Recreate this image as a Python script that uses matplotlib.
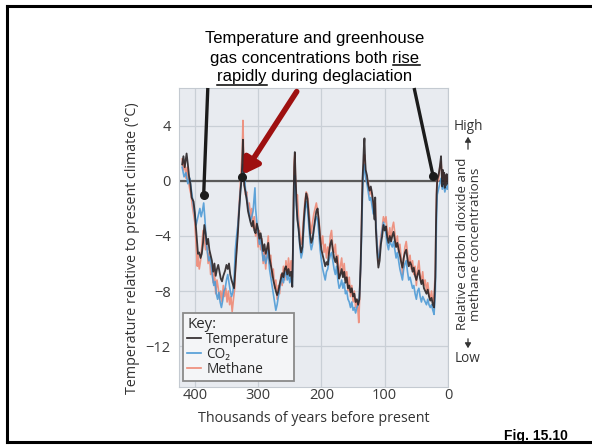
import matplotlib
matplotlib.use("Agg")
import matplotlib.pyplot as plt
from matplotlib.lines import Line2D

plt.rcParams['font.family'] = ['Open Sans', 'DejaVu Sans']

# ---------------- data (thousands of years before present) ----------------
temp_age = [420, 418, 416, 413, 411, 409, 407, 405, 402, 400, 398, 396, 395, 393, 391, 389, 387, 385, 383, 381,
            379, 377, 375, 373, 371, 369, 367, 365, 363, 361, 359, 357, 355, 352, 350, 348, 346, 344, 342, 340,
            338, 336, 334, 332, 330, 328, 326, 325, 324, 323, 322, 320, 318, 316, 314, 312, 310, 308, 306, 304,
            302, 300, 298, 296, 294, 292, 290, 288, 286, 284, 282, 280, 278, 276, 274, 272, 270, 268, 266, 264,
            262, 260, 258, 256, 254, 252, 250, 248, 246, 245, 244, 243, 242, 241, 240, 239, 238, 236, 234, 232,
            230, 228, 226, 224, 222, 220, 218, 216, 214, 212, 210, 208, 206, 204, 202, 200, 198, 196, 194, 192,
            190, 188, 186, 184, 182, 180, 178, 176, 174, 172, 170, 168, 166, 164, 162, 160, 158, 156, 154, 152,
            150, 148, 146, 144, 142, 140, 138, 137, 136, 135, 134, 133, 132, 131, 130, 128, 126, 124, 122, 120,
            118, 116, 115, 114, 112, 110, 108, 106, 104, 102, 100, 98, 96, 94, 92, 90, 88, 86, 84, 82,
            80, 78, 76, 74, 72, 70, 68, 66, 64, 62, 60, 58, 56, 54, 52, 50, 48, 46, 44, 42,
            40, 38, 36, 34, 32, 30, 28, 26, 24, 22, 20, 19, 18, 17, 15, 13, 11, 10, 9, 8,
            7, 6, 5, 4, 3, 2, 1, 0]
temperature = [1.2, 1.8, 1.0, 2.0, 1.2, 0.3, -0.2, -1.2, -1.5, -2.3, -3.5, -4.8, -5.3, -5.2, -5.6, -5.3, -4.5, -3.2, -3.8, -4.6,
               -4.2, -5.0, -5.4, -5.8, -6.6, -6.0, -6.9, -6.4, -6.1, -6.6, -7.1, -7.3, -6.9, -6.5, -6.1, -6.4, -6.0, -6.8, -7.2, -7.5,
               -7.8, -6.5, -5.3, -3.8, -2.2, -0.8, 0.3, 1.5, 3.0, 1.2, -0.3, -0.8, -1.4, -2.2, -2.6, -3.0, -3.3, -2.9, -3.6, -3.8,
               -3.1, -3.5, -4.2, -3.8, -4.4, -5.1, -4.6, -5.3, -4.9, -4.5, -5.6, -6.1, -6.6, -7.2, -7.6, -8.0, -8.3, -8.0, -7.5, -7.1,
               -6.7, -7.0, -6.4, -6.2, -6.8, -6.4, -6.9, -6.6, -7.7, -5.0, -1.5, 1.0, 2.1, 0.5, -0.8, -2.0, -2.8, -3.5, -4.6, -5.2,
               -4.8, -3.0, -1.8, -0.9, -1.3, -2.6, -3.8, -4.5, -4.2, -3.5, -2.8, -2.2, -2.0, -3.0, -4.2, -5.0, -5.4, -5.8, -6.2, -5.9,
               -6.1, -5.2, -4.6, -4.3, -5.0, -5.6, -5.9, -5.5, -6.3, -7.1, -6.8, -6.4, -7.0, -6.6, -7.4, -7.0, -7.8, -7.6, -8.1, -7.8,
               -8.4, -8.2, -8.8, -8.6, -9.0, -8.6, -6.0, -4.2, -2.0, 0.2, 1.2, 2.4, 3.1, 1.6, 0.8, 0.4, -0.3, -0.7, -0.4, -0.9,
               -1.6, -2.8, -1.2, -3.5, -5.2, -6.3, -5.8, -4.6, -4.0, -3.2, -3.6, -3.3, -4.1, -4.5, -4.0, -4.4, -4.0, -3.7, -4.3, -4.8,
               -4.5, -5.0, -5.4, -5.9, -6.3, -5.6, -5.2, -5.0, -5.7, -6.2, -5.9, -6.1, -6.6, -6.3, -6.9, -7.2, -6.8, -6.5, -7.1, -7.5,
               -7.2, -7.8, -8.0, -8.2, -7.9, -8.4, -8.7, -8.5, -9.0, -9.2, -7.0, -3.3, -1.0, 0.1, 0.4, 1.0, 1.8, 0.5, -0.4, 0.8,
               -0.2, 0.6, -0.5, 0.4, -0.3, 0.5, -0.2, 0.3]

co2_age = [420, 417, 414, 411, 408, 405, 402, 400, 398, 396, 394, 392, 390, 388, 386, 384, 382, 380, 378, 376,
           374, 372, 370, 368, 366, 364, 362, 360, 358, 356, 354, 352, 350, 348, 346, 344, 342, 340, 338, 336,
           334, 332, 330, 328, 326, 324, 322, 320, 318, 316, 314, 312, 310, 308, 306, 305, 304, 302, 300, 298,
           296, 294, 292, 290, 288, 286, 284, 282, 280, 278, 276, 274, 272, 270, 268, 266, 264, 262, 260, 258,
           256, 254, 252, 250, 248, 246, 245, 244, 243, 242, 241, 240, 238, 236, 234, 232, 230, 228, 226, 224,
           222, 220, 218, 216, 214, 212, 210, 208, 206, 204, 202, 200, 198, 196, 194, 192, 190, 188, 186, 184,
           182, 180, 178, 176, 174, 172, 170, 168, 166, 164, 162, 160, 158, 156, 154, 152, 150, 148, 146, 144,
           142, 140, 138, 137, 136, 135, 134, 133, 132, 131, 130, 128, 126, 124, 122, 120, 118, 116, 114, 112,
           110, 108, 106, 104, 102, 100, 98, 96, 94, 92, 90, 88, 86, 84, 82, 80, 78, 76, 74, 72,
           70, 68, 66, 64, 62, 60, 58, 56, 54, 52, 50, 48, 46, 44, 42, 40, 38, 36, 34, 32,
           30, 28, 26, 24, 22, 20, 19, 18, 17, 15, 13, 11, 9, 7, 5, 3, 1, 0]
co2 = [1.0, 0.3, 0.6, -0.2, 0.2, -0.8, -1.8, -2.5, -3.2, -2.8, -2.4, -2.0, -2.6, -2.2, -1.6, -2.8, -4.4, -5.2, -5.8, -5.5,
       -6.2, -7.0, -7.6, -7.3, -8.2, -8.6, -8.1, -8.8, -9.2, -8.7, -8.0, -7.8, -7.2, -6.8, -7.4, -8.0, -8.4, -8.1, -7.2, -5.0,
       -4.0, -3.2, -2.0, -0.8, 0.2, 1.2, 0.6, -0.6, -1.2, -1.8, -2.4, -2.9, -2.6, -2.2, -1.0, -0.5, -2.0, -3.0, -3.8, -4.6,
       -4.2, -5.0, -5.8, -5.4, -6.0, -5.6, -5.0, -6.4, -7.0, -7.6, -8.2, -8.8, -9.4, -9.0, -8.4, -7.8, -7.4, -7.0, -7.4, -6.8,
       -6.6, -7.2, -6.8, -7.4, -7.0, -7.6, -5.4, -2.6, -0.6, 0.4, -0.4, -1.4, -2.6, -3.6, -4.8, -5.6, -5.2, -3.6, -2.2, -1.5,
       -2.0, -3.2, -4.4, -5.0, -4.6, -3.6, -3.0, -2.6, -2.8, -3.8, -5.0, -5.8, -6.4, -6.8, -7.2, -6.6, -6.4, -5.8, -5.4, -5.2,
       -5.8, -6.4, -6.8, -6.2, -7.2, -7.8, -7.6, -7.2, -7.8, -7.4, -8.2, -8.0, -8.6, -8.8, -9.2, -8.8, -9.4, -9.2, -9.6, -9.2,
       -9.0, -8.4, -6.4, -4.8, -2.8, -1.0, 0.2, 0.8, 1.2, 0.8, 0.2, -0.2, -0.8, -1.4, -1.2, -1.8, -2.4, -2.0, -3.0, -4.6,
       -5.6, -5.4, -4.4, -3.6, -3.0, -3.4, -3.8, -4.6, -5.0, -4.4, -4.6, -4.8, -4.4, -5.0, -5.6, -5.2, -5.8, -6.4, -6.8, -7.2,
       -6.4, -6.0, -5.8, -6.6, -7.2, -7.0, -7.4, -7.8, -7.6, -8.2, -8.6, -8.0, -7.8, -8.4, -8.8, -8.4, -8.6, -8.8, -9.0, -8.6,
       -9.0, -9.2, -9.0, -9.4, -9.7, -8.0, -5.0, -2.4, -1.0, -0.6, -0.2, 0.2, -0.6, -0.2, -0.8, -0.4, -0.6, -0.2]

ch4_age = [420, 418, 416, 414, 412, 410, 408, 406, 404, 402, 400, 398, 396, 395, 393, 391, 389, 387, 385, 383,
           381, 379, 377, 375, 373, 371, 369, 367, 365, 363, 361, 359, 357, 355, 353, 351, 349, 347, 345, 343,
           341, 339, 337, 335, 333, 331, 329, 327, 325, 324, 323, 322, 320, 318, 316, 314, 312, 310, 308, 306,
           304, 302, 300, 298, 296, 294, 292, 290, 288, 286, 284, 282, 280, 278, 276, 274, 272, 270, 268, 266,
           264, 262, 260, 258, 256, 254, 252, 250, 248, 246, 245, 244, 243, 242, 241, 240, 239, 238, 236, 234,
           232, 230, 228, 226, 224, 222, 220, 218, 216, 214, 212, 210, 208, 206, 204, 202, 200, 198, 196, 194,
           192, 190, 188, 186, 184, 182, 180, 178, 176, 174, 172, 170, 168, 166, 164, 162, 160, 158, 156, 154,
           152, 150, 148, 146, 144, 142, 141, 140, 138, 137, 136, 135, 134, 133, 132, 131, 130, 128, 126, 124,
           122, 120, 118, 116, 115, 114, 112, 110, 108, 106, 104, 102, 100, 98, 96, 94, 92, 90, 88, 86,
           84, 82, 80, 78, 76, 74, 72, 70, 68, 66, 64, 62, 60, 58, 56, 54, 52, 50, 48, 46,
           44, 42, 40, 38, 36, 34, 32, 30, 28, 26, 24, 22, 20, 19, 18, 17, 15, 13, 11, 9,
           7, 5, 3, 1, 0]
methane = [1.6, 0.8, 1.4, 0.2, 1.0, 0.0, -0.6, -1.0, -1.8, -2.4, -3.0, -4.6, -6.2, -5.4, -6.4, -5.8, -4.8, -3.6, -4.2, -5.0,
           -4.4, -6.0, -5.2, -6.8, -6.2, -7.4, -6.6, -8.2, -7.2, -7.8, -8.6, -8.0, -8.8, -7.6, -8.4, -7.8, -8.8, -8.0, -9.0, -8.4,
           -9.5, -8.6, -7.8, -5.6, -4.2, -2.4, -1.0, 0.6, 2.2, 4.4, 2.0, 0.0, -1.0, -0.8, -2.0, -1.6, -2.6, -2.0, -3.4, -2.6,
           -4.0, -3.2, -4.8, -3.6, -5.0, -4.2, -6.0, -5.0, -6.4, -5.2, -4.0, -6.0, -5.4, -7.0, -6.4, -7.8, -7.2, -8.6, -7.6, -8.2,
           -6.8, -7.6, -6.2, -7.2, -5.8, -6.8, -5.6, -6.6, -5.8, -7.0, -4.8, -1.2, 1.4, 2.0, 0.2, -0.4, -1.8, -1.0, -2.8, -3.8,
           -4.6, -4.0, -2.6, -1.4, -0.8, -1.0, -2.0, -3.0, -3.8, -3.0, -2.4, -2.0, -1.6, -2.2, -2.8, -3.8, -4.6, -4.0, -5.2, -4.6,
           -5.6, -4.8, -5.4, -4.0, -3.6, -4.8, -5.2, -4.6, -6.0, -5.4, -7.0, -6.2, -5.6, -6.8, -6.0, -7.2, -6.6, -8.0, -7.0, -8.4,
           -7.6, -8.8, -8.0, -9.2, -8.6, -9.6, -10.3, -9.0, -6.4, -4.0, -1.6, 0.0, 0.8, 1.4, 1.9, 1.0, 0.4, -0.2, 0.0, -1.0,
           -0.6, -1.2, -1.8, -2.4, -1.6, -3.0, -4.6, -5.8, -5.0, -4.0, -3.4, -2.6, -3.0, -2.6, -3.6, -4.2, -3.4, -4.4, -3.4, -3.0,
           -3.8, -4.8, -4.0, -5.2, -4.6, -5.6, -6.8, -5.6, -4.8, -4.4, -5.2, -6.2, -5.4, -6.4, -5.8, -6.8, -6.2, -7.6, -6.4, -5.8,
           -6.8, -7.4, -6.6, -7.6, -7.2, -8.0, -7.4, -8.2, -8.6, -8.0, -8.8, -8.4, -6.4, -3.0, -0.6, 0.4, 0.0, 1.0, 1.4, 0.2,
           0.6, -0.2, 0.4, 0.0, 0.2]

# annotated points
dot_age = [386, 326, 23.5]
dot_temp = [-1.0, 0.3, 0.35]
line_top_age = [379.5, None, 53.5]

x_ticks = [400, 300, 200, 100, 0]
y_ticks = [4, 0, -4, -8, -12]

title_lines = ["Temperature and greenhouse", "gas concentrations both rise", "rapidly during deglaciation"]

# ---------------- figure ----------------
W, H = 592, 447
fig = plt.figure(figsize=(W / 100, H / 100), dpi=100)
fig.patch.set_facecolor('white')

def fx(px):
    return px / W

def fy(py):
    return 1 - py / H

# slide frame (top, left, bottom)
fig.add_artist(Line2D([fx(7), fx(592)], [fy(6), fy(6)], color='black', lw=2.2))
fig.add_artist(Line2D([fx(7), fx(7)], [fy(6), fy(442)], color='black', lw=2.2))
fig.add_artist(Line2D([fx(7), fx(592)], [fy(442), fy(442)], color='black', lw=2.2))

ax_l, ax_r, ax_t, ax_b = 179, 448, 88, 387
ax = fig.add_axes([fx(ax_l), fy(ax_b), (ax_r - ax_l) / W, (ax_b - ax_t) / H])
ax.set_facecolor('#e8ebf0')
ax.set_xlim(425, 0)
ax.set_ylim(-14.98, 6.76)

for s in ax.spines.values():
    s.set_color('#c4cad1')
    s.set_linewidth(0.8)

ax.set_xticks(x_ticks)
ax.set_yticks(y_ticks)
ax.set_xticklabels([str(v) for v in x_ticks])
ax.set_yticklabels([str(v) if v >= 0 else '\u2212' + str(-v) for v in y_ticks])
ax.tick_params(length=0, labelsize=10.5, colors='#3a3a3a')
ax.tick_params(axis='x', pad=1)
ax.tick_params(axis='y', pad=6)
for lab in ax.get_xticklabels() + ax.get_yticklabels():
    lab.set_fontweight('medium')
ax.grid(True, color='#c9cfd6', lw=0.9)
ax.set_axisbelow(True)

ax.axhline(0, color='#5a5a5a', lw=1.6, zorder=2)

ax.plot(ch4_age, methane, color='#ee8a76', lw=1.2, alpha=0.9, zorder=3)
ax.plot(co2_age, co2, color='#4f9bd6', lw=1.2, alpha=0.9, zorder=4)
ax.plot(temp_age, temperature, color='#2a2426', lw=1.3, alpha=0.9, zorder=5)

# black annotation lines and dots
top = ax.get_ylim()[1]
for a, t, ta in zip(dot_age, dot_temp, line_top_age):
    if ta is not None:
        ax.plot([a, ta], [t, top], color='#1c1c1c', lw=2.4, zorder=7, clip_on=False, solid_capstyle='butt')
    ax.plot([a], [t], 'o', color='#1c1c1c', ms=5.5, zorder=8)

# red arrow
ax.annotate('', xy=(dot_age[1], dot_temp[1]), xytext=(239, 6.5),
            arrowprops=dict(arrowstyle='-|>,head_length=0.9,head_width=0.55', color='#9e1010', lw=4,
                            shrinkA=0, shrinkB=2), zorder=9)

# legend
handles = [Line2D([], [], color='#2a2426', lw=1.2),
           Line2D([], [], color='#4f9bd6', lw=1.2),
           Line2D([], [], color='#ee8a76', lw=1.2)]
leg = ax.legend(handles, ['Temperature', 'CO\u2082', 'Methane'], title='Key:', loc='lower left',
                bbox_to_anchor=(0.015, 0.02), borderaxespad=0, fontsize=9.8, title_fontsize=10.8,
                alignment='left', handlelength=1.0, handletextpad=0.4, labelspacing=0.0, borderpad=0.3,
                fancybox=False, framealpha=1, facecolor='#f4f5f7', edgecolor='#8a8a8a')
leg.get_frame().set_linewidth(1.3)
for t in leg.get_texts():
    t.set_color('#2a2a2a')
leg.get_title().set_color('#2a2a2a')
leg.set_zorder(10)

# axis labels
fig.text(fx(132), fy(248), 'Temperature relative to present climate (\u00b0C)', rotation=90,
         ha='center', va='center', fontsize=10.3, color='#333333')
fig.text(fx(314), fy(418), 'Thousands of years before present', ha='center', va='center',
         fontsize=10.3, color='#333333')

# right side label
fig.text(fx(469), fy(244), 'Relative carbon dioxide and\nmethane concentrations', rotation=90,
         ha='center', va='center', fontsize=9.6, color='#333333', linespacing=1.0, multialignment='center')
fig.text(fx(468), fy(126), 'High', ha='center', va='center', fontsize=9.8, color='#333333')
fig.text(fx(467), fy(359), 'Low', ha='center', va='center', fontsize=9.8, color='#333333')
fig.add_artist(matplotlib.patches.FancyArrowPatch((fx(468), fy(152)), (fx(468), fy(134)),
               transform=fig.transFigure, arrowstyle='-|>,head_length=3,head_width=1.8',
               color='#333333', lw=0.9, mutation_scale=1))
fig.add_artist(matplotlib.patches.FancyArrowPatch((fx(468), fy(336)), (fx(468), fy(351)),
               transform=fig.transFigure, arrowstyle='-|>,head_length=3,head_width=1.8',
               color='#333333', lw=0.9, mutation_scale=1))

# title lines with underlines
title_font = dict(family=['Liberation Sans', 'DejaVu Sans'], fontsize=12, color='black')
ys = [38, 58, 77]
txts = []
for line, yy in zip(title_lines, ys):
    txts.append(fig.text(fx(315), fy(yy), line, ha='center', va='center', **title_font))

fig.canvas.draw()
r = fig.canvas.get_renderer()

def width_px(s):
    t = fig.text(0, 0, s, **title_font)
    w = t.get_window_extent(r).width
    t.remove()
    return w

bb2 = txts[1].get_window_extent(r)
w_rise = width_px('rise')
uy2 = 65
fig.add_artist(Line2D([fx(bb2.x1 - w_rise), fx(bb2.x1)], [fy(uy2), fy(uy2)], color='black', lw=1.1))
bb3 = txts[2].get_window_extent(r)
w_rap = width_px('rapidly')
uy3 = 85
fig.add_artist(Line2D([fx(bb3.x0), fx(bb3.x0 + w_rap)], [fy(uy3), fy(uy3)], color='black', lw=1.1))

fig.text(fx(536), fy(436), 'Fig. 15.10', ha='center', va='center', fontsize=10, fontweight='bold',
         family=['Liberation Sans', 'DejaVu Sans'], color='black')

fig.savefig('out.png', dpi=100, facecolor='white')
